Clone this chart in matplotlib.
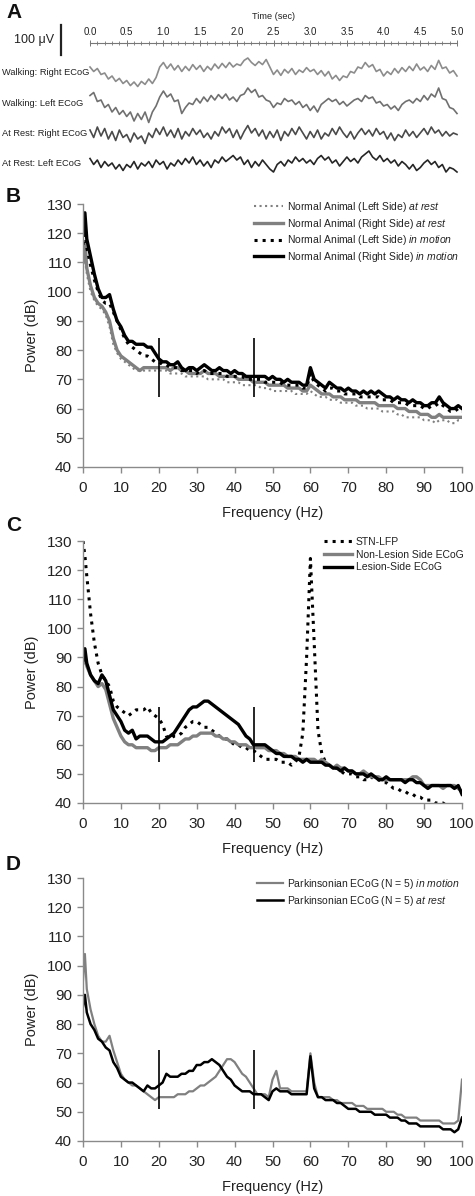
import numpy as np
import matplotlib
matplotlib.use("Agg")
import matplotlib.pyplot as plt
import matplotlib.transforms as mtransforms

plt.rcParams['font.family'] = ['Liberation Sans', 'DejaVu Sans']
plt.rcParams['mathtext.fontset'] = 'custom'
plt.rcParams['mathtext.rm'] = 'Liberation Sans'
plt.rcParams['mathtext.it'] = 'Liberation Sans:italic'

# ---------------- Panel A data (µV, relative to each trace baseline) -------
time_sec = np.linspace(0, 5, 101)
trace_labels = ["Walking: Right ECoG", "Walking: Left ECoG",
                "At Rest: Right ECoG", "At Rest: Left ECoG"]
trace_offsets = [-100, -200, -300, -400]
walk_right = [20, 5, 15, -5, 0, -20, -10, -28, -18, -35, -25, -42, -30, -45, -28, -38, -20, -35, -15, 20,
              35, 15, 30, 10, 25, 5, 22, 8, 28, 12, 25, 5, 22, 10, 30, 15, 32, 18, 35, 20,
              30, 25, 42, 50, 35, 25, 38, 28, 45, 20, -5, 10, -8, 12, 0, 15, -5, 10, 2, 18,
              5, 12, -5, 8, -10, 5, -20, -8, -25, -10, -15, 5, 0, 20, 15, 35, 20, 28, 5, 12,
              -10, 5, -5, 15, 0, 18, 5, 22, 8, 30, 10, 20, 5, 25, 12, 42, 15, 20, 0, 8, -10]
walk_left = [25, 35, 5, 10, -15, -5, -30, -15, -38, -25, -45, -30, -60, -35, -55, -30, -65, -30, -10, 20,
             40, 20, 30, 5, 10, -35, -15, 0, -5, 15, 0, 20, 5, 25, 10, 28, 15, 30, 10, 20,
             5, 25, 30, 50, 35, 45, 20, 25, 10, 5, -15, 0, -5, 15, 5, 10, -5, 5, -15, -5,
             -25, -10, -30, -5, 5, 15, 5, 12, -5, 5, -10, 0, 10, 15, 5, 25, 15, 20, 0, 5,
             -10, -5, -20, -10, -25, -5, 5, 10, 0, 15, 5, 25, 10, 30, 20, 50, 15, 10, -15, -20, -35]
rest_right = [10, -15, 20, -10, 15, -20, 5, -25, 10, -15, -5, -30, 0, -20, -10, -35, 0, -15, 15, -5,
              20, -10, 10, -15, 15, -20, 5, -10, 15, -5, 10, -15, 0, -20, 5, -10, 20, 0, 15, -15,
              10, -20, 5, 25, 0, 15, -10, 10, -20, 5, -15, 10, -25, 5, -10, 15, -5, 20, 0, -20,
              5, -15, 10, -20, 0, -10, 15, -5, 20, 0, -15, 5, -20, 0, 15, -5, 10, -10, 15, -5,
              5, -20, 0, -25, -5, -15, 10, -10, 5, -15, 0, 15, -5, 20, 0, 10, -10, 5, -10, 0, -5]
rest_left = [15, -5, 10, -15, 5, -10, 0, -20, -5, -25, -5, -15, 5, -20, 0, -10, 5, -15, 10, -5,
             5, -20, 0, -10, 10, -5, 15, 0, 20, -5, 10, -10, 5, -15, 10, 0, 20, 5, 15, 25,
             10, 20, -5, 10, -15, 5, -10, 10, -5, -20, -30, -5, 5, -10, 10, 0, 20, 5, 15, 0,
             10, -5, 15, 25, 10, 20, 0, 10, -10, 5, 20, 5, 15, 0, 20, 30, 40, 20, 10, 25,
             5, 15, 0, 10, -10, 5, -5, -20, -5, -25, -15, 0, 10, -5, 5, -15, -5, -30, -15, -20, -30]
traces = [walk_right, walk_left, rest_right, rest_left]
trace_colors = ['#8c8c8c', '#707070', '#4a4a4a', '#262626']
time_ticks = [0.0, 0.5, 1.0, 1.5, 2.0, 2.5, 3.0, 3.5, 4.0, 4.5, 5.0]

# ---------------- Spectra (dB) ---------------------------------------------
freq = [0, 0.5] + list(range(1, 101))
y_ticks = [40, 50, 60, 70, 80, 90, 100, 110, 120, 130]
x_ticks = [0, 10, 20, 30, 40, 50, 60, 70, 80, 90, 100]
band_edges = [20, 45]

B_left_rest = [108, 114, 106, 100, 97, 95, 94, 92, 88, 82, 79,
               77, 76, 75, 74, 73, 73, 73, 73, 73, 73,
               73, 73, 73, 72, 72, 72, 72, 71, 71, 71,
               71, 71, 71, 70, 70, 70, 70, 70, 69, 69,
               69, 69, 68, 68, 68, 68, 68, 67, 67, 67,
               66, 66, 66, 66, 66, 66, 65, 65, 65, 65,
               66, 65, 64, 64, 64, 63, 63, 63, 62, 62,
               62, 62, 61, 61, 61, 60, 60, 60, 60, 59,
               59, 59, 59, 58, 58, 57, 57, 57, 57, 57,
               56, 56, 56, 55, 56, 56, 56, 55, 55, 56, 56]
B_right_rest = [110, 117, 108, 102, 98, 96, 95, 93, 90, 84, 80,
                78, 77, 76, 75, 74, 73, 74, 74, 74, 74,
                74, 74, 74, 73, 74, 74, 73, 73, 72, 72,
                72, 72, 73, 72, 72, 72, 71, 71, 71, 71,
                71, 70, 70, 70, 70, 69, 69, 69, 69, 68,
                68, 68, 68, 68, 67, 67, 67, 67, 66, 66,
                68, 67, 66, 65, 65, 65, 64, 64, 64, 63,
                63, 63, 63, 62, 62, 62, 62, 62, 61, 61,
                61, 61, 61, 60, 60, 60, 59, 59, 59, 58,
                58, 58, 57, 57, 58, 57, 57, 57, 57, 57, 57]
B_left_motion = [116, 121, 115, 109, 104, 100, 97, 96, 96, 93, 90,
                 87, 84, 82, 81, 80, 79, 78, 78, 77, 76,
                 76, 75, 75, 74, 74, 74, 73, 73, 73, 73,
                 72, 73, 73, 72, 72, 72, 72, 72, 71, 71,
                 71, 71, 71, 70, 70, 70, 70, 70, 69, 69,
                 69, 69, 69, 68, 68, 68, 68, 68, 67, 67,
                 72, 69, 68, 67, 66, 67, 67, 66, 66, 65,
                 65, 65, 65, 64, 64, 64, 64, 64, 64, 63,
                 63, 63, 62, 62, 62, 62, 61, 61, 61, 61,
                 60, 60, 61, 61, 62, 61, 60, 59, 59, 60, 59]
B_right_motion = [120, 127, 118, 112, 106, 101, 98, 98, 99, 94, 90,
                  88, 85, 83, 83, 82, 82, 82, 81, 81, 79,
                  77, 76, 76, 75, 75, 76, 74, 73, 74, 74,
                  73, 74, 75, 74, 73, 73, 74, 73, 73, 72,
                  73, 72, 72, 71, 71, 71, 71, 71, 71, 70,
                  71, 70, 70, 69, 70, 69, 69, 69, 68, 68,
                  74, 70, 69, 68, 67, 69, 68, 67, 67, 66,
                  67, 66, 66, 65, 66, 65, 66, 65, 66, 65,
                  64, 64, 63, 64, 63, 63, 62, 63, 62, 62,
                  61, 61, 62, 62, 64, 62, 61, 60, 60, 61, 60]

C_stn = [130, 125, 118, 105, 95, 88, 84, 82, 80, 75, 73,
         72, 71, 70, 71, 72, 72, 72, 73, 71, 70,
         69, 67, 63, 62, 63, 63, 64, 66, 67, 68,
         68, 67, 66, 66, 65, 64, 63, 62, 62, 61,
         60, 60, 59, 59, 58, 58, 57, 56, 55, 55,
         55, 55, 54, 54, 54, 53, 54, 56, 64, 90,
         124, 95, 65, 57, 54, 53, 52, 52, 51, 50,
         50, 50, 49, 49, 48, 48, 49, 48, 48, 47,
         47, 46, 45, 45, 44, 44, 43, 43, 42, 42,
         41, 41, 41, 40, 40, 40, 39, 38, 38, 37, 37]
C_nonlesion = [88, 90, 87, 84, 82, 80, 81, 79, 74, 69, 66,
               63, 61, 60, 60, 59, 59, 59, 59, 58, 58,
               59, 59, 59, 60, 60, 60, 61, 62, 62, 63,
               63, 64, 64, 64, 64, 63, 63, 62, 62, 61,
               61, 60, 60, 60, 59, 59, 59, 59, 59, 58,
               58, 58, 57, 57, 56, 56, 56, 55, 55, 55,
               55, 55, 54, 55, 54, 53, 52, 53, 52, 52,
               51, 51, 50, 50, 51, 50, 49, 49, 49, 48,
               48, 48, 48, 48, 48, 48, 48, 49, 49, 48,
               46, 46, 46, 46, 46, 45, 46, 46, 46, 45, 44]
C_lesion = [89, 93, 88, 84, 82, 81, 84, 82, 77, 72, 70,
            68, 65, 64, 65, 62, 63, 63, 63, 62, 61,
            61, 61, 62, 63, 64, 66, 68, 70, 72, 73,
            73, 74, 75, 75, 74, 73, 72, 71, 70, 69,
            68, 67, 65, 63, 62, 60, 60, 60, 60, 59,
            58, 57, 57, 56, 56, 56, 55, 55, 54, 55,
            54, 54, 54, 54, 53, 53, 52, 52, 51, 52,
            51, 51, 50, 50, 50, 49, 50, 49, 48, 48,
            49, 48, 48, 48, 48, 47, 48, 48, 47, 47,
            46, 45, 46, 46, 46, 46, 46, 46, 45, 46, 43]

D_motion = [95, 104, 92, 85, 80, 76, 74, 74, 76, 71, 67,
            63, 61, 60, 59, 59, 58, 57, 56, 55, 54,
            55, 55, 55, 55, 55, 56, 56, 56, 57, 57,
            58, 59, 59, 60, 61, 62, 64, 66, 68, 68,
            67, 65, 63, 62, 60, 58, 56, 56, 56, 55,
            61, 64, 58, 58, 58, 57, 57, 57, 57, 57,
            70, 60, 55, 55, 55, 55, 54, 54, 53, 53,
            53, 53, 52, 52, 52, 51, 51, 51, 51, 51,
            50, 50, 50, 49, 49, 48, 48, 48, 48, 47,
            47, 47, 47, 47, 47, 46, 46, 46, 46, 47, 61]
D_rest = [86, 90, 84, 80, 78, 75, 74, 72, 71, 67, 65,
          62, 61, 60, 60, 59, 58, 57, 59, 58, 58,
          59, 60, 63, 62, 62, 62, 63, 63, 64, 64,
          66, 66, 67, 67, 68, 67, 66, 64, 62, 61,
          59, 58, 57, 57, 57, 56, 56, 56, 55, 54,
          57, 58, 57, 57, 57, 56, 56, 56, 56, 56,
          69, 58, 55, 55, 54, 54, 54, 53, 53, 52,
          51, 51, 51, 50, 50, 50, 50, 49, 49, 49,
          49, 48, 48, 48, 47, 47, 46, 46, 46, 45,
          45, 45, 45, 45, 45, 44, 44, 44, 43, 44, 48]

GRAY = '#808080'
SPINE = '#8a8a8a'

fig = plt.figure(figsize=(4.75, 11.96), dpi=100)
H = 1196.0
W = 475.0

# ---------------- Panel A ----------------
axA = fig.add_axes([90 / W, 1 - 185 / H, 367 / W, 185 / H])
axA.set_xlim(0, 5)
axA.set_ylim(-473.3, 143.3)
for s in ['left', 'right', 'bottom']:
    axA.spines[s].set_visible(False)
axA.spines['top'].set_position(('data', 0))
axA.spines['top'].set_color('#777777')
axA.spines['top'].set_linewidth(0.8)
axA.xaxis.tick_top()
axA.set_xticks(time_ticks)
axA.set_xticklabels([f"{v:.1f}" for v in time_ticks])
axA.set_xticks(np.arange(0, 5.01, 0.1), minor=True)
axA.tick_params(axis='x', which='major', direction='inout', length=5, width=0.7,
                color='#777777', labelsize=7, pad=1.5, labelcolor='#222222')
axA.tick_params(axis='x', which='minor', direction='inout', length=2.5, width=0.6,
                color='#777777')
axA.set_yticks([])
axA.xaxis.set_label_position('top')
axA.set_xlabel('Time (sec)', fontsize=6.6, labelpad=6, color='#222222')
for vals, off, col, lab in zip(traces, trace_offsets, trace_colors, trace_labels):
    axA.plot(time_sec, np.array(vals) + off, color=col, lw=1.2, clip_on=False)
blend = mtransforms.blended_transform_factory(fig.transFigure, axA.transData)
for off, lab in zip(trace_offsets, trace_labels):
    axA.text(2 / W, off, lab, transform=blend, ha='left', va='center',
             fontsize=6.7, color='#222222')
axA.plot([61 / W, 61 / W], [60, -40], transform=blend, color='#222222', lw=1.6,
         clip_on=False)
axA.text(54 / W, 10, '100 μV', transform=blend, ha='right', va='center',
         fontsize=9, color='#222222')

# ---------------- Spectra panels ----------------
def style_spec(ax):
    ax.set_xlim(0, 100)
    ax.set_ylim(40, 130)
    ax.set_xticks(x_ticks)
    ax.set_yticks(y_ticks)
    for s in ['top', 'right']:
        ax.spines[s].set_visible(False)
    for s in ['left', 'bottom']:
        ax.spines[s].set_color(SPINE)
        ax.spines[s].set_linewidth(1.0)
    ax.tick_params(axis='both', direction='out', length=4, width=1.0, color=SPINE,
                   labelsize=11, labelcolor='#222222')
    ax.tick_params(axis='x', pad=6)
    ax.tick_params(axis='y', pad=4)
    ax.set_xlabel('Frequency (Hz)', fontsize=10.5, labelpad=8, color='#222222')
    ax.set_ylabel('Power (dB)', fontsize=10.5, labelpad=5, color='#222222')

L = 83 / W
AW = 379 / W
axB = fig.add_axes([L, 1 - 467 / H, AW, 263 / H])
axC = fig.add_axes([L, 1 - 803 / H, AW, 262 / H])
axD = fig.add_axes([L, 1 - 1141 / H, AW, 263 / H])

# B
axB.plot(freq, B_left_rest, color=GRAY, lw=1.5, ls=':',
         label=r'Normal Animal (Left Side) $\mathit{at\ rest}$')
axB.plot(freq, B_right_rest, color=GRAY, lw=2.4,
         label=r'Normal Animal (Right Side) $\mathit{at\ rest}$')
axB.plot(freq, B_left_motion, color='black', lw=2.2, ls=':',
         label=r'Normal Animal (Left Side) $\mathit{in\ motion}$')
axB.plot(freq, B_right_motion, color='black', lw=2.4,
         label=r'Normal Animal (Right Side) $\mathit{in\ motion}$')
axB.vlines(band_edges, 64, 84, color='black', lw=1.2)
style_spec(axB)

# C
axC.plot(freq, C_stn, color='black', lw=2.2, ls=':', label='STN-LFP')
axC.plot(freq, C_nonlesion, color=GRAY, lw=2.4, label='Non-Lesion Side ECoG')
axC.plot(freq, C_lesion, color='black', lw=2.4, label='Lesion-Side ECoG')
axC.vlines(band_edges, 54, 73, color='black', lw=1.2)
style_spec(axC)

# D
axD.plot(freq, D_motion, color=GRAY, lw=1.6,
         label=r'Parkinsonian ECoG (N = 5) $\mathit{in\ motion}$')
axD.plot(freq, D_rest, color='black', lw=1.8,
         label=r'Parkinsonian ECoG (N = 5) $\mathit{at\ rest}$')
axD.vlines(band_edges, 51, 71, color='black', lw=1.2)
style_spec(axD)

leg_kw = dict(frameon=False, borderpad=0, borderaxespad=0, handletextpad=0.35,
              labelspacing=0.25, bbox_transform=fig.transFigure, loc='upper left',
              prop={'size': 7.5})
axB.legend(handlelength=2.8, bbox_to_anchor=(254 / W, 1 - 200 / H), **leg_kw)
axC.legend(handlelength=2.7, bbox_to_anchor=(324 / W, 1 - 537 / H), **leg_kw)
axD.legend(handlelength=2.5, bbox_to_anchor=(257 / W, 1 - 877 / H), **leg_kw)
for lg in [axB.get_legend(), axC.get_legend(), axD.get_legend()]:
    for t in lg.get_texts():
        t.set_color('#222222')

# Panel letters
for lab, ytop in [('A', 3), ('B', 187), ('C', 516), ('D', 855)]:
    fig.text(6 / W, 1 - ytop / H, lab, fontsize=15, fontweight='bold', va='top',
             ha='left', color='#111111')

fig.savefig('out.png', dpi=100)
